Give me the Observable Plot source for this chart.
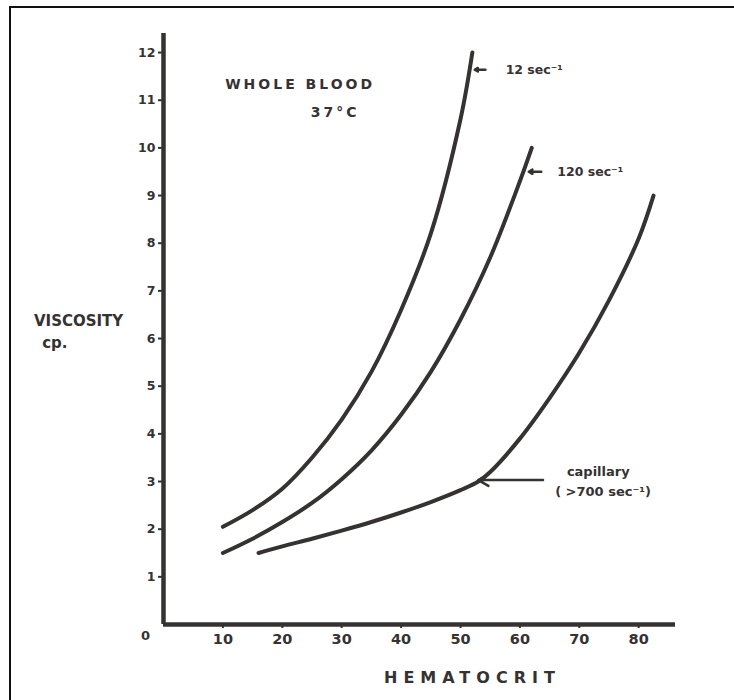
<!DOCTYPE html>
<html>
<head>
<meta charset="utf-8">
<script src="https://cdn.jsdelivr.net/npm/d3@7"></script>
<script src="https://cdn.jsdelivr.net/npm/@observablehq/plot@0.6"></script>
<style>
  html, body { margin: 0; padding: 0; background: #fff; overflow: hidden; }
  #wrap { position: relative; width: 734px; height: 700px; }
  #frame { position: absolute; left: 9px; top: 6px; width: 900px; height: 900px;
           border-left: 2px solid #111; border-top: 2px solid #111; pointer-events: none; }
  svg { font-family: "DejaVu Sans", sans-serif; }
</style>
</head>
<body>
<div id="wrap"><div id="frame"></div></div>
<script>
// ---- data ----
const hct12 = [10, 15, 20, 25, 30, 35, 40, 45, 50, 52];
const visc12 = [2.05, 2.4, 2.85, 3.5, 4.3, 5.3, 6.6, 8.2, 10.6, 12.0];

const hct120 = [10, 15, 20, 25, 30, 35, 40, 45, 50, 55, 60, 62];
const visc120 = [1.5, 1.8, 2.15, 2.55, 3.05, 3.65, 4.4, 5.3, 6.4, 7.7, 9.3, 10.0];

const hctCap = [16, 20, 25, 30, 35, 40, 45, 50, 53, 55, 60, 65, 70, 75, 80, 82.5];
const viscCap = [1.5, 1.64, 1.8, 1.97, 2.15, 2.35, 2.57, 2.82, 3.0, 3.2, 3.9, 4.75, 5.7, 6.8, 8.1, 9.0];

const xTicks = [10, 20, 30, 40, 50, 60, 70, 80];
const yTicks = [1, 2, 3, 4, 5, 6, 7, 8, 9, 10, 11, 12];

const seriesNames = ["12 sec⁻¹", "120 sec⁻¹", "capillary"];
// annotation arrows: tip hematocrit, tail hematocrit, viscosity
const arrowTipX = [52.4, 61.5, 53.0];
const arrowTailX = [54.2, 63.6, 63.9];
const arrowY = [11.64, 9.5, 3.03];
// annotation labels
const sideText = ["12 sec⁻¹", "120 sec⁻¹"];
const sideX = [57.6, 66.3];
const sideY = [11.64, 9.5];
const capText = ["capillary", "( >700 sec⁻¹)"];
const capX = [73.2, 74.0];
const capY = [3.2, 2.78];

const titleLines = ["WHOLE BLOOD", "37°C"];
const titleX = [23.0, 28.9];
const titleY = [11.32, 10.74];

const yLabelLines = ["VISCOSITY", "cp."];
const yLabelX = [-14.3, -18.3];
const yLabelY = [6.36, 5.9];
const xLabel = "HEMATOCRIT";

// ---- build tables ----
const toRows = (xs, ys, name) => xs.map((x, i) => ({x, y: ys[i], name}));
const curves = [
  ...toRows(hct12, visc12, seriesNames[0]),
  ...toRows(hct120, visc120, seriesNames[1]),
  ...toRows(hctCap, viscCap, seriesNames[2])
];
const arrows = arrowTipX.map((t, i) => ({x1: arrowTailX[i], x2: t, y: arrowY[i]}));
const side = sideText.map((t, i) => ({t, x: sideX[i], y: sideY[i]}));
const cap = capText.map((t, i) => ({t, x: capX[i], y: capY[i]}));
const titles = titleLines.map((t, i) => ({t, x: titleX[i], y: titleY[i]}));
const yLabels = yLabelLines.map((t, i) => ({t, x: yLabelX[i], y: yLabelY[i]}));

const ink = "#363232";

const chart = Plot.plot({
  width: 734,
  height: 700,
  marginLeft: 163,
  marginRight: 59,
  marginTop: 33,
  marginBottom: 76,
  x: {domain: [0, 86.2]},
  y: {domain: [0, 12.4]},
  style: {background: "transparent", color: ink},
  marks: [
    Plot.axisY(yTicks, {tickSize: 5, tickPadding: 3, strokeWidth: 2, fontSize: 12.5, fontWeight: "bold", label: null, stroke: ink}),
    Plot.axisX(xTicks, {tickSize: 4, tickPadding: 5, strokeWidth: 2, fontSize: 14.5, fontWeight: "bold", label: null, stroke: ink}),
    Plot.text([0], {x: 0, y: 0, text: d => String(d), dx: -18, dy: 11, fontSize: 13, fontWeight: "bold", fill: ink}),
    Plot.ruleX([0], {y1: 0, y2: 12.4, stroke: ink, strokeWidth: 4.5}),
    Plot.ruleY([0], {x1: 0, x2: 86.2, stroke: ink, strokeWidth: 4.5}),
    Plot.line(curves, {x: "x", y: "y", z: "name", curve: "catmull-rom", stroke: ink, strokeWidth: 4, strokeLinecap: "round"}),
    Plot.arrow(arrows, {x1: "x1", x2: "x2", y1: "y", y2: "y", stroke: ink, strokeWidth: 2.5, headLength: 7, bend: 0}),
    Plot.text(side, {x: "x", y: "y", text: "t", textAnchor: "start", fontSize: 12.5, fontWeight: "bold", fill: ink}),
    Plot.text(cap, {x: "x", y: "y", text: "t", textAnchor: "middle", fontSize: 13, fontWeight: "bold", fill: ink}),
    Plot.text(titles, {x: "x", y: "y", text: "t", fontSize: 14, fontWeight: "bold", fill: ink}),
    Plot.text(yLabels, {x: "x", y: "y", text: "t", fontSize: 15, fontWeight: "bold", fill: ink}),
    Plot.text([xLabel], {x: 51.5, y: 0, dy: 53, text: d => d, fontSize: 16, fontWeight: "bold", fill: ink})
  ]
});
chart.querySelectorAll("text").forEach(t => {
  const s = t.textContent;
  if (s === "HEMATOCRIT") { t.setAttribute("letter-spacing", "6"); t.setAttribute("dx", "3"); }
  if (s === "WHOLE BLOOD" || s === "37°C") { t.setAttribute("letter-spacing", "3"); }
});
chart.style.position = "absolute";
chart.style.left = "0";
chart.style.top = "0";
document.getElementById("wrap").appendChild(chart);
</script>
</body>
</html>
